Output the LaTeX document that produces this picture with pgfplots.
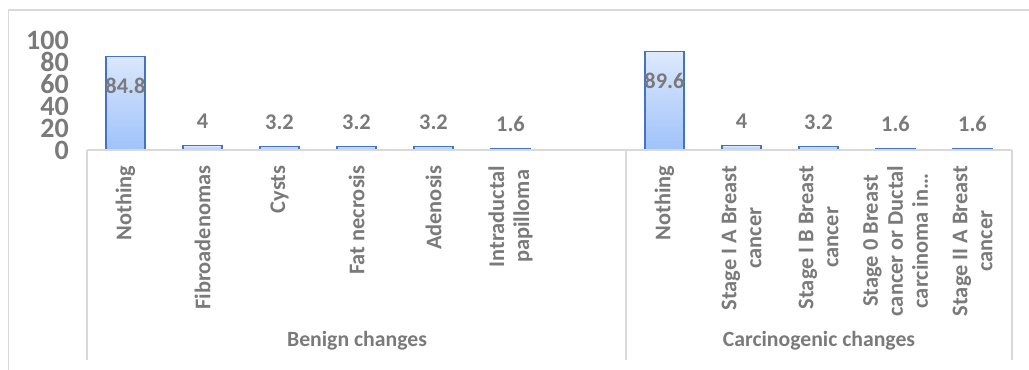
\documentclass[border=0pt]{standalone}
\usepackage{pgfplots}
\pgfplotsset{compat=1.18}
\usepackage{fontspec}
\setmainfont{Carlito}
\definecolor{txt}{RGB}{122,122,122}
\definecolor{barline}{RGB}{68,114,196}
\definecolor{bartop}{RGB}{222,233,252}
\definecolor{barbot}{RGB}{158,194,250}
\definecolor{frame}{RGB}{217,217,217}
\begin{document}
\begin{tikzpicture}[x=0.75pt,y=0.75pt]
\path (0,0) rectangle (1029,370);
% outer chart frame
\draw[frame, line width=1.1pt] (8.5,-2) -- (8.5,360) -- (1031,360);
\begin{axis}[
  at={(87*0.75pt,220*0.75pt)}, anchor=south west,
  scale only axis, width=693pt, height=82.5pt,
  xmin=-0.5, xmax=11.5, ymin=0, ymax=100,
  axis x line*=bottom, axis y line*=left,
  x axis line style={draw=none},
  y axis line style={draw=none},
  major tick length=0pt,
  ytick={0,20,40,60,80,100},
  yticklabel style={font=\fontsize{21}{21}\selectfont\bfseries, text=txt, anchor=east, inner sep=0pt, xshift=-13.5pt},
  xtick={0,1,2,3,4,5,7,8,9,10,11},
  xticklabels={Nothing, Fibroadenomas, Cysts, Fat necrosis, Adenosis, {Intraductal\\papilloma},
    Nothing, {Stage I A Breast\\cancer}, {Stage I B Breast\\cancer}, {Stage 0 Breast\\cancer or Ductal\\carcinoma in\ldots}, {Stage II A Breast\\cancer}},
  xticklabel style={rotate=90, anchor=east, align=center, inner sep=0pt, text=txt, font=\fontsize{16.8}{18.75}\selectfont\bfseries},
  xticklabel shift=11.5pt,
  clip=false,
  /pgf/number format/assume math mode=true,
  ybar, bar width=29.25pt, bar shift=0pt,
  nodes near coords,
  nodes near coords style={font=\fontsize{16.8}{17}\selectfont\bfseries, text=txt},
]
\addplot[draw=barline, line width=1.1pt, top color=bartop, bottom color=barbot,
  nodes near coords style={anchor=center, yshift=-21.75pt}] coordinates {(0,84.8) (7,89.6)};
\addplot[draw=barline, line width=1.1pt, top color=bartop, bottom color=barbot,
  nodes near coords style={anchor=center, yshift=18pt}] coordinates {(1,4) (2,3.2) (3,3.2) (4,3.2) (5,1.6) (8,4) (9,3.2) (10,1.6) (11,1.6)};
\end{axis}
% category axis box
\draw[frame, line width=1.1pt] (87,220) -- (1012,220);
\draw[frame, line width=1.1pt] (87,220) -- (87,10);
\draw[frame, line width=1.1pt] (626,220) -- (626,10);
\draw[frame, line width=1.1pt] (1012,220) -- (1012,10);
\node[text=txt, font=\fontsize{16.3}{17}\selectfont\bfseries] at (357,29) {Benign changes};
\node[text=txt, font=\fontsize{16.3}{17}\selectfont\bfseries] at (819,29) {Carcinogenic changes};
\pgfresetboundingbox
\useasboundingbox (0,0) rectangle (1029,370);
\end{tikzpicture}
\end{document}
